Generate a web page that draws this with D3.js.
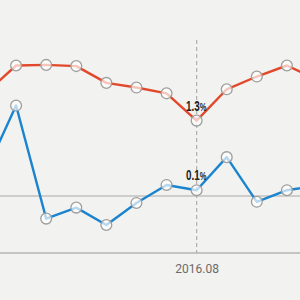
<!DOCTYPE html>
<html>
<head>
<meta charset="utf-8">
<script src="https://cdn.jsdelivr.net/npm/d3@7/dist/d3.min.js"></script>
<style>
html,body{margin:0;padding:0;background:#f2f2f0;}
svg{display:block;}
</style>
</head>
<body>
<svg id="chart" width="300" height="300"></svg>
<script>
const months = ["2016.01","2016.02","2016.03","2016.04","2016.05","2016.06","2016.07","2016.08","2016.09","2016.10","2016.11","2016.12"];
const redValues = [1.78, 2.25, 2.26, 2.24, 1.95, 1.87, 1.77, 1.3, 1.84, 2.06, 2.25, 2.01];
const blueValues = [0.43, 1.56, -0.39, -0.2, -0.5, -0.12, 0.19, 0.1, 0.67, -0.1, 0.1, 0.18];
const tickLabels = ["2016.08"];
const highlightMonth = "2016.08";
const redLabel = "1.3";
const blueLabel = "0.1";

const svg = d3.select("#chart");
svg.append("rect").attr("width",300).attr("height",300).attr("fill","#f2f2f0");

const x = d3.scalePoint().domain(months).range([-14, 317]);
const y = d3.scaleLinear().domain([-1, 3.5]).range([254, -7]);

// baseline zero
svg.append("line").attr("x1",0).attr("x2",300)
  .attr("y1",y(0)).attr("y2",y(0))
  .attr("stroke","#a8a8a8").attr("stroke-width",1);

// bottom axis
const axisY = 253;
const axis = d3.axisBottom(x).tickValues(tickLabels).tickSize(0).tickPadding(11);
const ag = svg.append("g").attr("transform",`translate(0,${axisY})`).call(axis);
ag.select(".domain").remove();
ag.append("line").attr("x1",0).attr("x2",300).attr("y1",0).attr("y2",0)
  .attr("stroke","#b5b5b5").attr("stroke-width",1.5);
ag.selectAll("text").attr("font-family","Roboto, 'Open Sans', sans-serif")
  .attr("font-size",12).attr("fill","#6a6a6a");

// dashed vertical line
svg.append("line").attr("x1",x(highlightMonth)).attr("x2",x(highlightMonth))
  .attr("y1",40).attr("y2",axisY)
  .attr("stroke","#b0b0b0").attr("stroke-width",1.2).attr("stroke-dasharray","4,3");

const line = d3.line().x((d,i)=>x(months[i])).y(d=>y(d));

function series(vals, color){
  svg.append("path").datum(vals).attr("d",line)
    .attr("fill","none").attr("stroke",color).attr("stroke-width",2.4)
    .attr("stroke-linejoin","round");
  svg.selectAll(null).data(vals).enter().append("circle")
    .attr("cx",(d,i)=>x(months[i])).attr("cy",d=>y(d)).attr("r",5.4)
    .attr("fill","#ffffff").attr("fill-opacity",0.68)
    .attr("stroke","#9e9e9e").attr("stroke-width",1.3);
}
series(redValues, "#e2492b");
series(blueValues, "#1a84cf");

function label(val, txt){
  const t = svg.append("text")
    .attr("transform", `translate(${x(highlightMonth) - 0.5},${y(val) - 10}) scale(0.68,1)`)
    .attr("text-anchor","middle")
    .style("font-family","'Liberation Sans', Arial, sans-serif")
    .style("font-weight","bold").style("font-size","14.5px").attr("fill","#222");
  t.append("tspan").text(txt);
  t.append("tspan").style("font-size","11px").text("%");
}
label(redValues[months.indexOf(highlightMonth)], redLabel);
label(blueValues[months.indexOf(highlightMonth)], blueLabel);
</script>
</body>
</html>
